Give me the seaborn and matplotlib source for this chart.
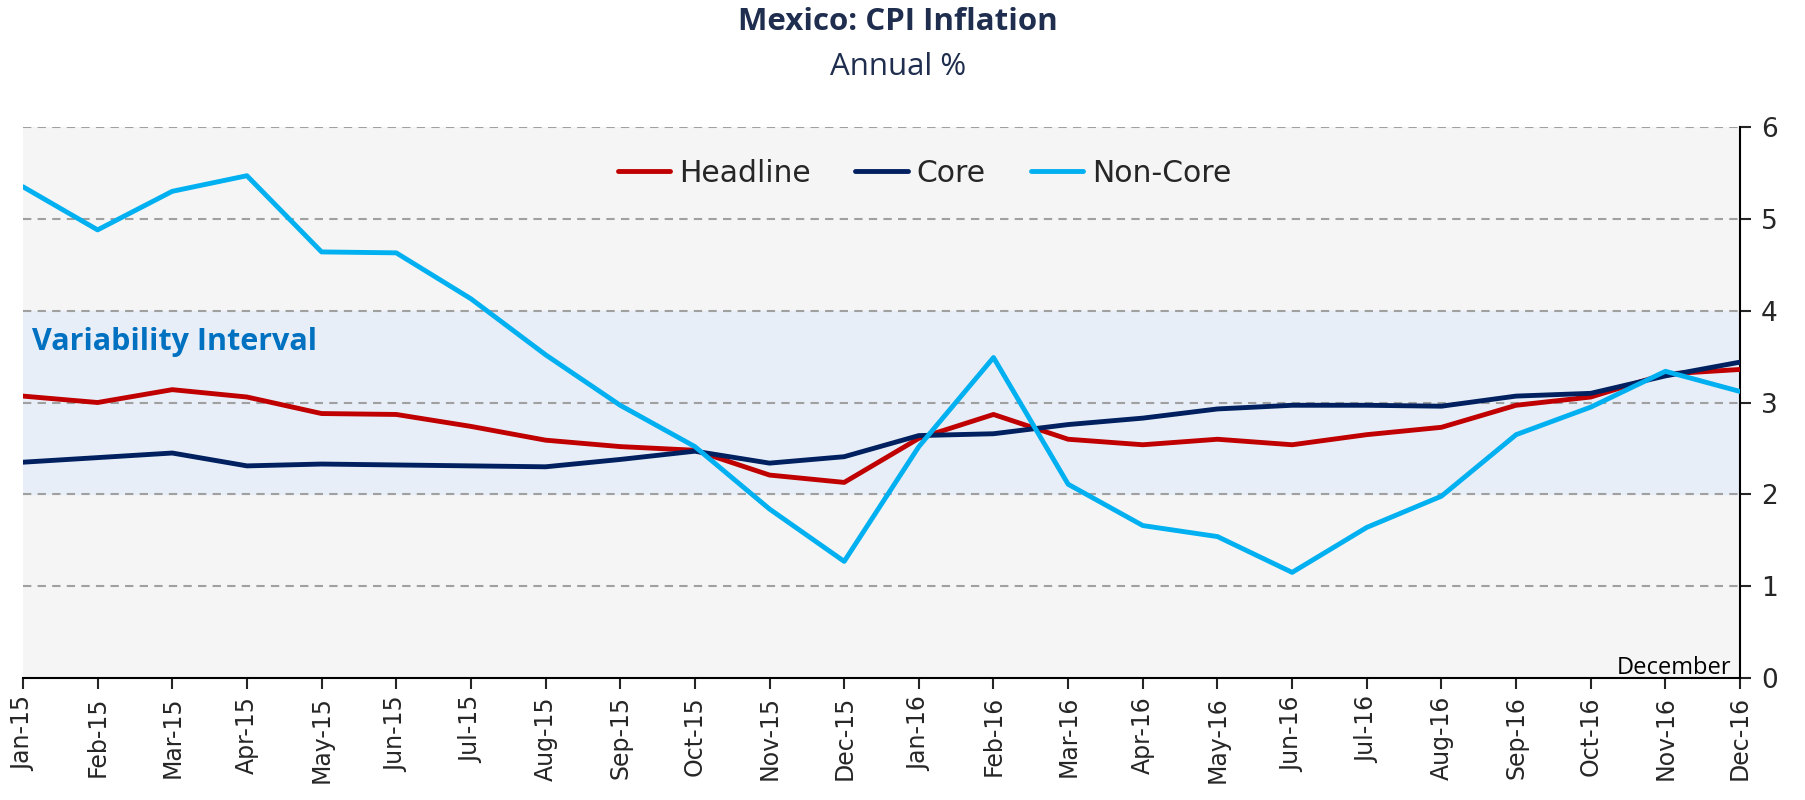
# Mexico CPI inflation, headline / core / non-core
import pandas as pd
import matplotlib
matplotlib.use("Agg")
import matplotlib.pyplot as plt
import seaborn as sns

# Data
months = [
    "Jan-15", "Feb-15", "Mar-15", "Apr-15", "May-15", "Jun-15",
    "Jul-15", "Aug-15", "Sep-15", "Oct-15", "Nov-15", "Dec-15",
    "Jan-16", "Feb-16", "Mar-16", "Apr-16", "May-16", "Jun-16",
    "Jul-16", "Aug-16", "Sep-16", "Oct-16", "Nov-16", "Dec-16",
]
headline = [3.07, 3.00, 3.14, 3.06, 2.88, 2.87, 2.74, 2.59, 2.52, 2.48, 2.21, 2.13,
            2.61, 2.87, 2.60, 2.54, 2.60, 2.54, 2.65, 2.73, 2.97, 3.06, 3.31, 3.36]
core = [2.35, 2.40, 2.45, 2.31, 2.33, 2.32, 2.31, 2.30, 2.38, 2.47, 2.34, 2.41,
        2.64, 2.66, 2.76, 2.83, 2.93, 2.97, 2.97, 2.96, 3.07, 3.10, 3.29, 3.44]
non_core = [5.35, 4.88, 5.30, 5.47, 4.64, 4.63, 4.13, 3.52, 2.97, 2.52, 1.84, 1.27,
            2.52, 3.49, 2.11, 1.66, 1.54, 1.15, 1.64, 1.98, 2.65, 2.95, 3.34, 3.12]
series_names = ["Headline", "Core", "Non-Core"]
series_colors = ["#C00000", "#002060", "#00B0F0"]
band_low, band_high = 2, 4
y_ticks = [0, 1, 2, 3, 4, 5, 6]

df = pd.DataFrame({
    "pos": list(range(len(months))) * 3,
    "value": headline + core + non_core,
    "series": [s for s in series_names for _ in months],
})

# Plot style
sns.set_theme(style="white")
plt.rcParams["font.family"] = ["DejaVu Sans"]

fig = plt.figure(figsize=(18.06, 8), dpi=100)
ax = fig.add_axes([0.0127, 0.1525, 0.9508, 0.6887])
ax.set_facecolor("#F5F5F5")
ax.axhspan(band_low, band_high, color="#E7EEF7", zorder=0)
for y in y_ticks[1:]:
    ax.axhline(y, color="#A0A0A0", lw=1.5, ls=(0, (4, 3)), zorder=1)

sns.lineplot(
    data=df, x="pos", y="value", hue="series",
    palette=dict(zip(series_names, series_colors)),
    linewidth=3.5, ax=ax, zorder=3,
)

ax.set_xlim(0, len(months) - 1)
ax.set_ylim(0, 6)
ax.set_xticks(range(len(months)))
ax.set_xticklabels(months, rotation=90, fontsize=17)
ax.set_yticks(y_ticks)
ax.yaxis.tick_right()
ax.tick_params(axis="y", labelsize=19, direction="out", length=8, width=1.5,
               right=True, left=False, pad=7)
ax.tick_params(axis="x", direction="out", length=8, width=1.5, bottom=True, pad=5)
ax.set_xlabel("")
ax.set_ylabel("")
for side in ["top", "left"]:
    ax.spines[side].set_visible(False)
for side in ["right", "bottom"]:
    ax.spines[side].set_color("black")
    ax.spines[side].set_linewidth(1.5)

ax.legend(
    loc="center", bbox_to_anchor=(0.525, 0.916), ncol=3, frameon=False,
    fontsize=21.5, handlelength=1.75, handletextpad=0.3, columnspacing=1.5,
    title=None,
)

ax.text(0.005, 3.66, "Variability Interval", transform=ax.get_yaxis_transform(),
        fontsize=22, fontweight="bold", color="#0070C0", family="Open Sans",
        va="center", ha="left")
ax.text(0.995, 0.11, "December", transform=ax.get_yaxis_transform(),
        fontsize=17, family="Open Sans", va="center", ha="right", color="black")

fig.text(0.497, 0.972, "Mexico: CPI Inflation", ha="center", va="center",
         fontsize=22.5, fontweight="bold", color="#1F2D4E", family="Open Sans")
fig.text(0.497, 0.916, "Annual %", ha="center", va="center",
         fontsize=22.5, color="#1F2D4E", family="Open Sans")

fig.savefig("out.png", dpi=100)
